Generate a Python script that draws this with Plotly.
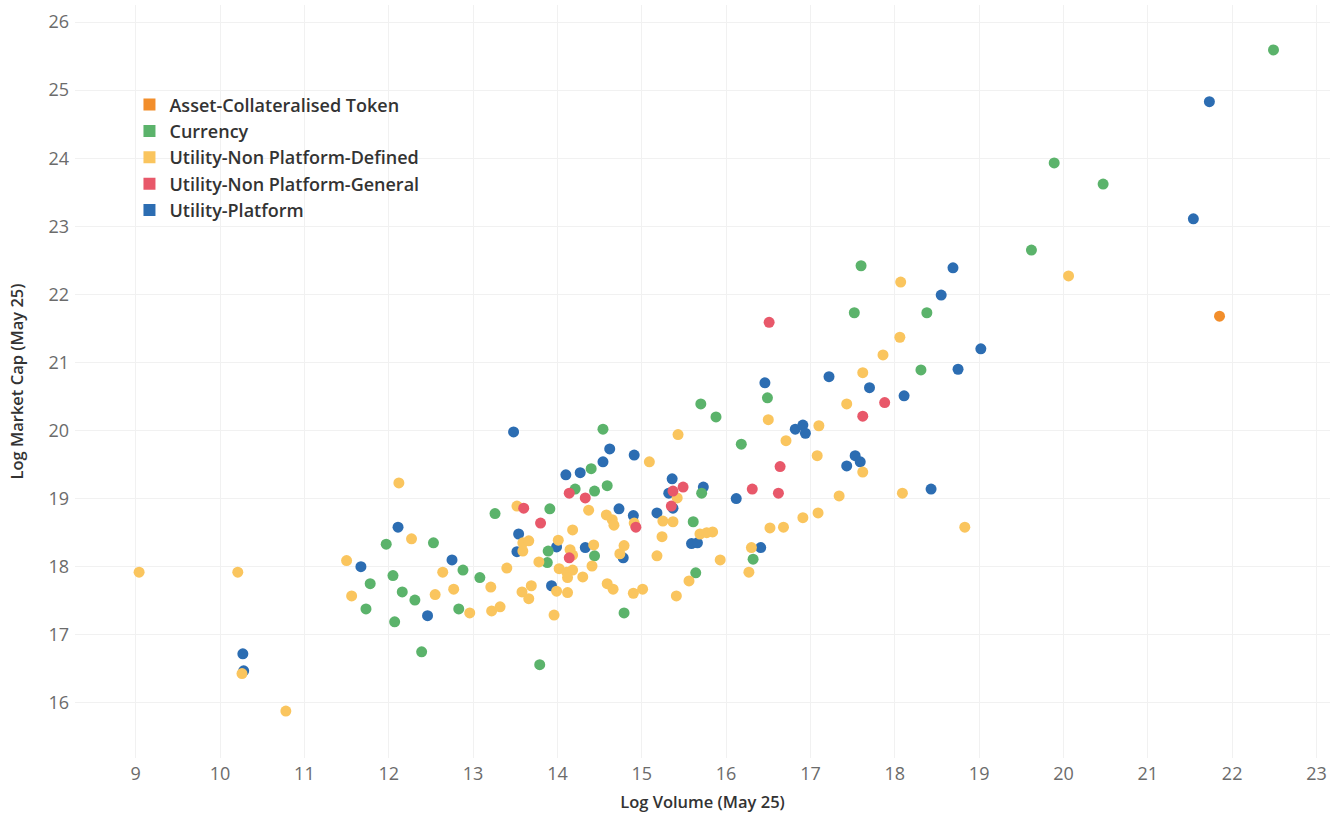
import plotly.graph_objects as go

categories = ["Asset-Collateralised Token", "Currency", "Utility-Non Platform-Defined",
              "Utility-Non Platform-General", "Utility-Platform"]
colors = ["#F28E2B", "#5BB36B", "#FAC55E", "#E8586A", "#2C6DB2"]

asset_x = [21.85]
asset_y = [21.68]

currency_x = [22.49, 19.89, 20.47, 19.62, 17.60, 17.52, 18.38, 18.31, 16.49, 15.70,
              15.88, 16.18, 14.54, 14.40, 14.21, 14.44, 14.59, 13.26, 13.91, 13.89,
              13.88, 12.88, 13.08, 12.83, 14.44, 14.79, 15.61, 15.71, 15.64, 16.32,
              11.97, 12.53, 12.05, 11.78, 12.16, 12.31, 11.73, 12.07, 12.39, 13.79]
currency_y = [25.59, 23.93, 23.62, 22.65, 22.42, 21.73, 21.73, 20.89, 20.48, 20.39,
              20.20, 19.80, 20.02, 19.44, 19.14, 19.11, 19.19, 18.78, 18.85, 18.23,
              18.06, 17.95, 17.84, 17.38, 18.16, 17.32, 18.66, 19.08, 17.91, 18.11,
              18.33, 18.35, 17.87, 17.75, 17.63, 17.51, 17.38, 17.19, 16.75, 16.56]

defined_x = [20.06, 18.07, 18.06, 17.86, 17.62, 17.43, 16.50, 17.10, 16.71, 17.08,
             17.62, 17.34, 18.09, 18.83, 17.09, 16.91, 16.52, 16.68, 16.30, 16.27,
             15.43, 15.09, 15.42, 15.25, 15.37, 15.24, 15.18, 15.69, 15.77, 15.84,
             15.93, 15.56, 15.41, 15.01, 14.90, 14.66, 14.59, 14.30, 14.41, 14.43,
             14.74, 14.79, 14.91, 14.58, 14.65, 14.67, 14.37, 14.18, 14.01, 14.15,
             14.18, 14.02, 14.11, 14.18, 14.12, 13.99, 14.12, 13.96, 13.78, 13.59,
             13.59, 13.66, 13.52, 13.58, 13.69, 13.66, 13.40, 13.21, 13.22, 13.32,
             12.96, 12.77, 12.64, 12.55, 12.27, 12.12, 11.50, 11.56, 9.04, 10.21,
             10.26, 10.78]
defined_y = [22.27, 22.18, 21.37, 21.11, 20.85, 20.39, 20.16, 20.07, 19.85, 19.63,
             19.39, 19.04, 19.08, 18.58, 18.79, 18.72, 18.57, 18.58, 18.28, 17.92,
             19.94, 19.54, 19.01, 18.67, 18.66, 18.44, 18.16, 18.48, 18.50, 18.51,
             18.10, 17.79, 17.57, 17.67, 17.61, 17.67, 17.75, 17.85, 18.01, 18.32,
             18.19, 18.31, 18.64, 18.76, 18.69, 18.61, 18.83, 18.54, 18.39, 18.25,
             18.17, 17.97, 17.92, 17.95, 17.84, 17.64, 17.62, 17.29, 18.07, 18.23,
             18.35, 18.38, 18.89, 17.63, 17.72, 17.53, 17.98, 17.70, 17.35, 17.41,
             17.32, 17.67, 17.92, 17.59, 18.41, 19.23, 18.09, 17.57, 17.92, 17.92,
             16.43, 15.88]

general_x = [16.51, 17.88, 17.62, 16.64, 16.31, 16.62, 15.49, 15.37, 15.35, 14.93,
             14.33, 14.14, 13.60, 13.80, 14.14]
general_y = [21.59, 20.41, 20.21, 19.47, 19.14, 19.08, 19.17, 19.11, 18.89, 18.58,
             19.01, 19.08, 18.86, 18.64, 18.13]

platform_x = [21.73, 21.54, 18.69, 18.55, 19.02, 18.75, 17.22, 17.70, 18.11, 16.46,
              16.82, 16.91, 16.94, 17.53, 17.59, 17.43, 18.43, 16.12, 16.41, 15.73,
              15.59, 15.66, 15.36, 15.32, 15.37, 15.18, 14.90, 14.73, 14.62, 14.91,
              14.54, 14.10, 14.27, 13.48, 13.54, 13.52, 13.99, 14.33, 14.78, 13.93,
              12.75, 12.11, 11.67, 12.46, 10.27, 10.28]
platform_y = [24.83, 23.11, 22.39, 21.99, 21.20, 20.90, 20.79, 20.63, 20.51, 20.70,
              20.02, 20.08, 19.96, 19.63, 19.54, 19.48, 19.14, 19.00, 18.28, 19.17,
              18.34, 18.35, 19.29, 19.08, 18.86, 18.79, 18.75, 18.85, 19.73, 19.64,
              19.54, 19.35, 19.38, 19.98, 18.48, 18.22, 18.29, 18.28, 18.13, 17.72,
              18.10, 18.58, 18.00, 17.28, 16.72, 16.47]

series = {
    "Asset-Collateralised Token": (asset_x, asset_y),
    "Currency": (currency_x, currency_y),
    "Utility-Non Platform-Defined": (defined_x, defined_y),
    "Utility-Non Platform-General": (general_x, general_y),
    "Utility-Platform": (platform_x, platform_y),
}

x_ticks = list(range(9, 24))
y_ticks = list(range(16, 27))

fig = go.Figure()

draw_order = ["Utility-Platform", "Currency", "Utility-Non Platform-Defined",
              "Utility-Non Platform-General", "Asset-Collateralised Token"]
for name in draw_order:
    xs, ys = series[name]
    c = colors[categories.index(name)]
    fig.add_trace(go.Scatter(
        x=xs, y=ys, mode="markers", name=name, showlegend=False,
        marker=dict(color=c, size=11, line=dict(width=0)),
        hovertemplate=name + "<br>x=%{x}<br>y=%{y}<extra></extra>",
    ))

# legend entries with square swatches
for name, c in zip(categories, colors):
    fig.add_trace(go.Scatter(
        x=[None], y=[None], mode="markers", name=name, showlegend=True,
        marker=dict(color=c, size=15, symbol="square", line=dict(width=0)),
    ))

FONT = "Open Sans, Noto Sans, sans-serif"
axis_font = dict(family=FONT, size=18, color="#6b6b6b")
title_font = dict(family=FONT, size=16.5, color="#333333", weight=600)

fig.update_layout(
    width=1330, height=817,
    margin=dict(l=75, r=0, t=5, b=59),
    paper_bgcolor="white", plot_bgcolor="white",
    showlegend=True,
    legend=dict(
        x=0.0434, y=0.892, xanchor="left", yanchor="top",
        bgcolor="rgba(255,255,255,0)",
        font=dict(family=FONT, size=18, color="#333333", weight=600),
        itemsizing="constant", tracegroupgap=0,
        traceorder="normal",
    ),
    xaxis=dict(
        range=[8.28, 23.16], tickvals=x_ticks, ticktext=[str(t) for t in x_ticks],
        showgrid=True, gridcolor="#f1f1f1", gridwidth=1,
        zeroline=False, showline=False, ticks="",
        tickfont=axis_font, ticklabelstandoff=3, automargin=False,
        title=dict(text="Log Volume (May 25)", font=title_font, standoff=12),
    ),
    yaxis=dict(
        range=[15.19, 26.25], tickvals=y_ticks, ticktext=[str(t) for t in y_ticks],
        showgrid=True, gridcolor="#f1f1f1", gridwidth=1,
        zeroline=False, showline=False, ticks="",
        tickfont=axis_font, ticklabelstandoff=5, automargin=False,
        title=dict(text="Log Market Cap (May 25)", font=title_font, standoff=20),
    ),
)

fig.write_html("out.html",
               config={"displayModeBar": False},
               post_script="document.body.style.margin='0';document.body.style.overflow='hidden';")
